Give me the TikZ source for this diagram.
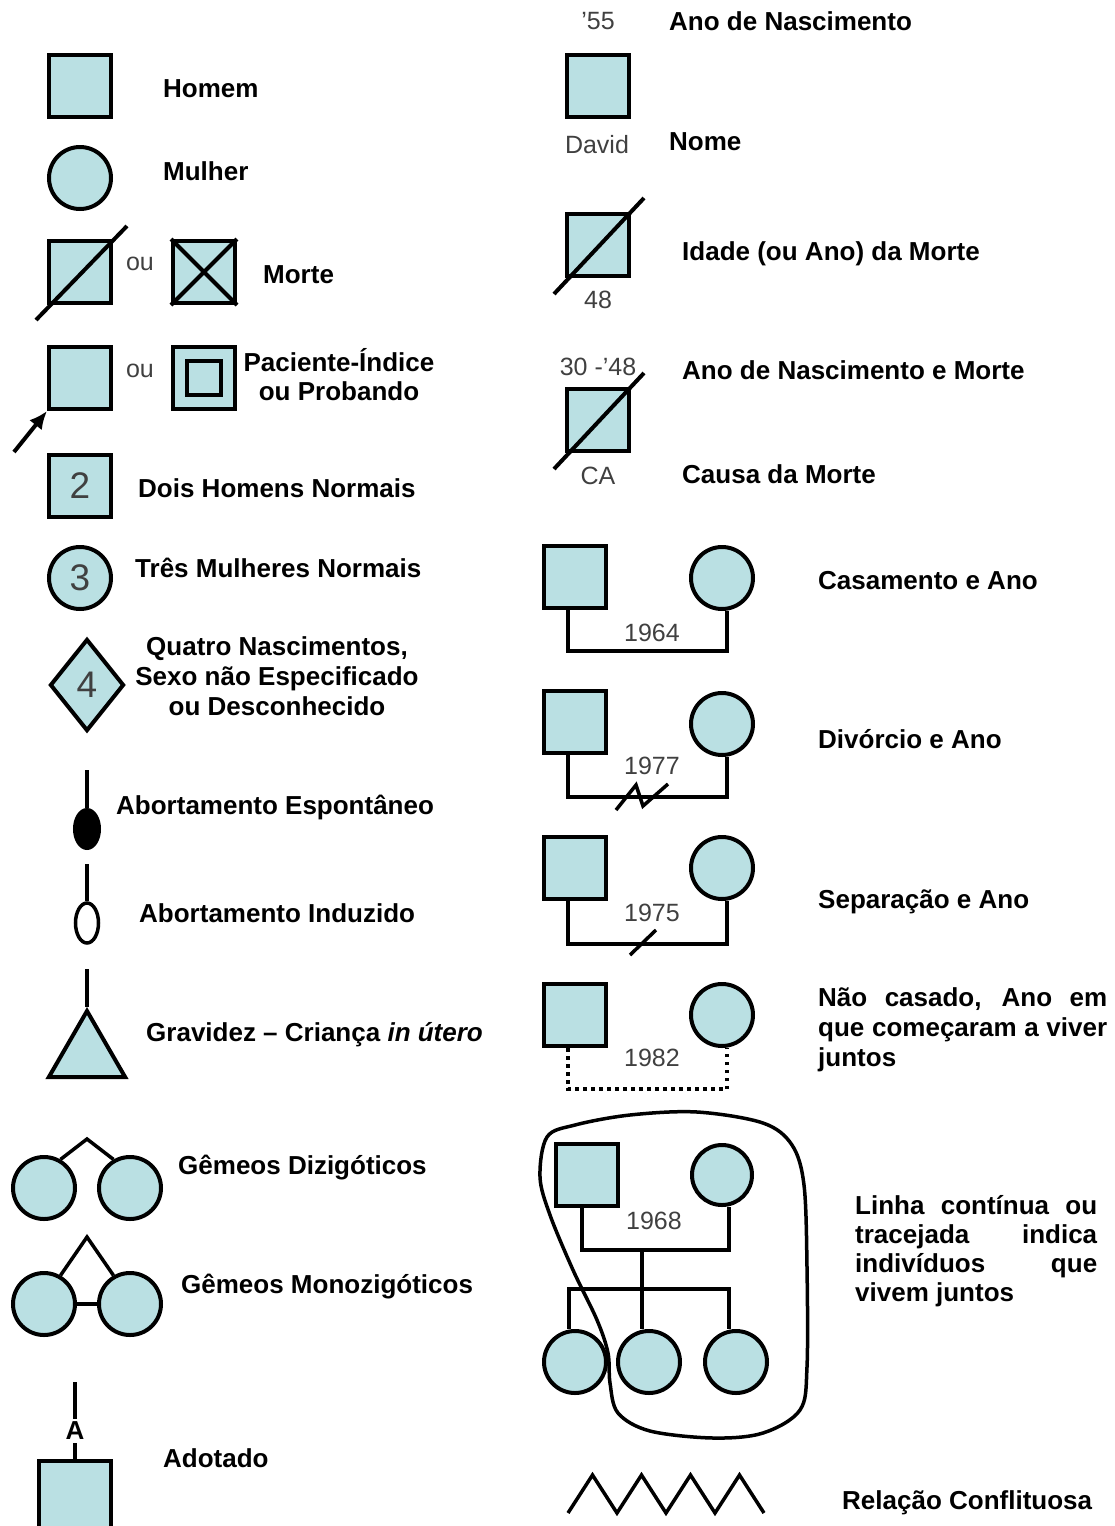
\documentclass[tikz,border=0pt]{standalone}
\usepackage{fontspec}
\setmainfont{Liberation Sans}
\usetikzlibrary{positioning,shapes.geometric,arrows.meta,calc}

\definecolor{genofill}{RGB}{186,224,227}
\definecolor{genogray}{RGB}{64,64,64}
\newcommand{\rotfont}{\bfseries\fontsize{26}{29}\selectfont}

\tikzset{
    sq/.style={rectangle, draw, fill=genofill, line width=4, minimum size=62, inner sep=0},
    circ/.style={circle, draw, fill=genofill, line width=4, minimum size=62, inner sep=0},
    traco/.style={line width=3.5},
    risco/.style={line width=4},
    rotulo/.style={anchor=base west, font=\rotfont, inner sep=0},
    bloco/.style={font=\rotfont, align=center, inner sep=0},
    ano/.style={font=\fontsize{25}{25}\selectfont, text=genogray, inner sep=0},
    numero/.style={font=\fontsize{37}{37}\selectfont, text=genogray}
}

\begin{document}
\begin{tikzpicture}[x=1pt, y=-1pt]
    \useasboundingbox (0,0) rectangle (1115,1526);

    % coluna esquerda
    \node[sq] (homem) at (80,86) {};
    \node[rotulo] (lhomem) at (163,97) {Homem};
    \node[circ] (mulher) at (80,178) {};
    \node[rotulo] (lmulher) at (163,180) {Mulher};

    \node[sq] (morte1) at (80,272) {};
    \draw[risco] ($(morte1.south west)+(-11,15)$) -- ($(morte1.north east)+(14,-13)$);
    \node[ano] (ou1) at (140,264) {ou};
    \node[sq] (morte2) at (204,272) {};
    \draw[risco] (morte2.south west) -- (morte2.north east) (morte2.north west) -- (morte2.south east);
    \node[rotulo] (lmorte) at (263,283) {Morte};

    \node[sq] (prob1) at (80,378) {};
    \coordinate (seta) at (14,452);
    \draw[risco, -{Latex[length=18pt,width=16pt]}] (seta) -- (prob1.south west);
    \node[ano] (ou2) at (140,371) {ou};
    \node[sq] (prob2) at (204,378) {};
    \node[sq, minimum size=34] (prob2i) at (prob2) {};
    \node[bloco] (lprob) at (339,375) {Paciente-Índice\\ou Probando};

    \node[sq, numero] (dois) at (80,486) {2};
    \node[rotulo] (ldois) at (138,497) {Dois Homens Normais};
    \node[circ, numero] (tres) at (80,578) {3};
    \node[rotulo] (ltres) at (135,577) {Três Mulheres Normais};
    \node[diamond, draw, fill=genofill, line width=4, minimum width=74, minimum height=92, inner sep=0, numero] (quatro) at (87,685) {4};
    \node[bloco, font=\bfseries\fontsize{26}{30}\selectfont] (lquatro) at (277,676) {Quatro Nascimentos,\\Sexo não Especificado\\ou Desconhecido};

    \coordinate (ae0) at (87,770);
    \node[ellipse, draw, fill=black, line width=2, minimum width=26, minimum height=40, inner sep=0] (aesp) at (87,829) {};
    \draw[traco] (ae0) -- (aesp.north);
    \node[rotulo] (laesp) at (116,814) {Abortamento Espontâneo};

    \coordinate (ai0) at (87,864);
    \node[ellipse, draw, fill=white, line width=3.5, minimum width=23, minimum height=40, inner sep=0] (aind) at (87,923) {};
    \draw[traco] (ai0) -- (aind.north);
    \node[rotulo] (laind) at (139,922) {Abortamento Induzido};

    \coordinate (gr0) at (87,969);
    \node[regular polygon, regular polygon sides=3, draw, fill=genofill, line width=4, minimum size=88, inner sep=0] (grav) at (87,1055) {};
    \draw[traco] (gr0) -- (grav.corner 1);
    \node[rotulo] (lgrav) at (146,1041) {Gravidez – Criança \textit{in útero}};

    \node[circ] (dz1) at (44,1188) {};
    \node[circ] (dz2) at (130,1188) {};
    \coordinate (dz0) at (87,1139);
    \draw[traco] (dz1.60) -- (dz0) -- (dz2.120);
    \node[rotulo] (ldz) at (178,1174) {Gêmeos Dizigóticos};

    \node[circ] (mz1) at (44,1304) {};
    \node[circ] (mz2) at (130,1304) {};
    \coordinate (mz0) at (87,1237);
    \draw[traco] (mz1.60) -- (mz0) -- (mz2.120);
    \draw[traco] (mz1.east) -- (mz2.west);
    \node[rotulo] (lmz) at (181,1293) {Gêmeos Monozigóticos};

    \coordinate (ad0) at (75,1382);
    \node[font=\rotfont, inner sep=3] (adA) at (75,1431) {A};
    \node[sq, minimum size=72] (adot) at (75,1497) {};
    \draw[traco] (ad0) -- (adA.north);
    \draw[traco] (adA.south) -- (adot.north);
    \node[rotulo] (lad) at (163,1467) {Adotado};

    % coluna direita
    \node[ano] (nasc) at (598,21) {'55};
    \node[rotulo] (lnasc) at (669,30) {Ano de Nascimento};
    \node[sq] (david) at (598,86) {};
    \node[ano] (nome) at (597,145) {David};
    \node[rotulo] (lnome) at (669,150) {Nome};

    \node[sq] (idade) at (598,245) {};
    \draw[risco] ($(idade.south west)+(-11,16)$) -- ($(idade.north east)+(13,-14)$);
    \node[ano] (idade48) at (598,300) {48};
    \node[rotulo] (lidade) at (682,260) {Idade (ou Ano) da Morte};

    \node[ano] (anos) at (598,367) {30 -'48};
    \node[sq] (causa) at (598,420) {};
    \draw[risco] ($(causa.south west)+(-11,16)$) -- ($(causa.north east)+(13,-14)$);
    \node[ano] (ca) at (598,476) {CA};
    \node[rotulo] (lanos) at (682,379) {Ano de Nascimento e Morte};
    \node[rotulo] (lcausa) at (682,483) {Causa da Morte};

    % casais
    \node[sq] (h1) at (575,577) {};
    \node[circ] (m1) at (722,578) {};
    \draw[traco] ([xshift=-7]h1.south) -- ++(0,41) -| ([xshift=5]m1.south);
    \node[ano] (a1964) at (652,633) {1964};
    \node[rotulo] (lcas) at (818,589) {Casamento e Ano};

    \node[sq] (h2) at (575,722) {};
    \node[circ] (m2) at (722,724) {};
    \draw[traco] ([xshift=-7]h2.south) -- ++(0,42) -| ([xshift=5]m2.south);
    \draw[traco] (616,810) -- (636,785) -- (643,806) -- (668,784);
    \node[ano] (a1977) at (652,766) {1977};
    \node[rotulo] (ldiv) at (818,748) {Divórcio e Ano};

    \node[sq] (h3) at (575,868) {};
    \node[circ] (m3) at (722,868) {};
    \draw[traco] ([xshift=-7]h3.south) -- ++(0,43) -| ([xshift=5]m3.south);
    \draw[traco] (630,955) -- (656,930);
    \node[ano] (a1975) at (652,913) {1975};
    \node[rotulo] (lsep) at (818,908) {Separação e Ano};

    \node[sq] (h4) at (575,1015) {};
    \node[circ] (m4) at (722,1015) {};
    \draw[traco, dash pattern=on 3.5pt off 4.5pt] ([xshift=-7]h4.south) -- ++(0,41) -| ([xshift=5]m4.south);
    \node[ano] (a1982) at (652,1058) {1982};
    \node[bloco, anchor=north west, align=justify, text width=289, font=\bfseries\fontsize{26}{30}\selectfont] (lnc) at (818,987) {Não casado, Ano em\linebreak que começaram a viver\linebreak juntos};

    % vivem juntos
    \node[sq] (h5) at (587,1175) {};
    \node[circ, minimum size=60] (m5) at (722,1175) {};
    \draw[traco] ([xshift=-5]h5.south) -- ++(0,42) -| ([xshift=7]m5.south);
    \node[ano] (a1968) at (654,1221) {1968};
    \coordinate (hfam) at (642,1249);
    \node[circ] (f1) at (575,1362) {};
    \node[circ] (f2) at (649,1362) {};
    \node[circ] (f3) at (736,1362) {};
    \draw[traco] (hfam) -- ([xshift=-7]f2.north);
    \draw[traco] ([xshift=-6]f1.north) -- ++(0,-40) -| ([xshift=-7]f3.north);
    \draw[traco] plot[smooth cycle, tension=0.55] coordinates {
        (547,1137) (575,1125) (630,1115) (697,1112) (763,1123) (792,1145)
        (804,1185) (807,1267) (807,1367) (800,1410) (763,1433) (713,1438)
        (650,1431) (618,1413) (610,1383) (608,1353) (597,1320) (573,1270)
        (550,1215) (540,1177)};
    \node[bloco, anchor=north west, align=justify, text width=242] (lviv) at (855,1195) {Linha contínua ou\linebreak tracejada indica\linebreak indivíduos que\linebreak vivem juntos};

    % conflito
    \draw[traco] (568,1513) \foreach \i in {1,...,4} { -- ++(24.5,-38) -- ++(24.5,38) };
    \node[rotulo] (lconf) at (842,1509) {Relação Conflituosa};
\end{tikzpicture}
\end{document}
